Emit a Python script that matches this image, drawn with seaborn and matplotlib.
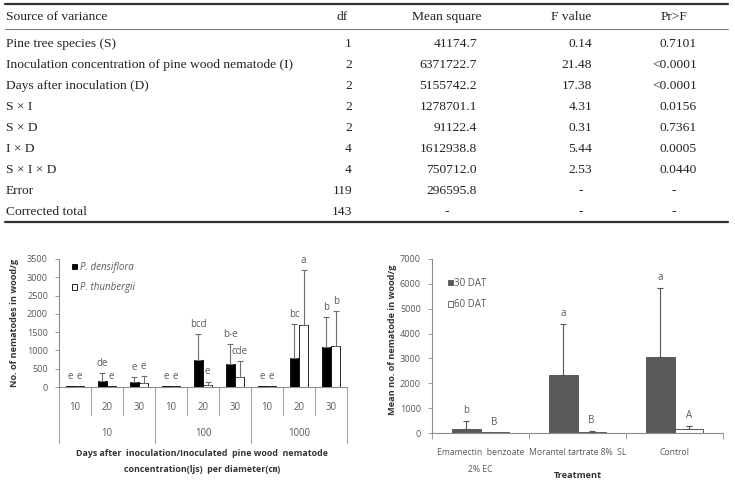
import matplotlib
matplotlib.use("Agg")
import matplotlib.pyplot as plt
import matplotlib.transforms as mtransforms
from matplotlib.lines import Line2D
from matplotlib.patches import Patch
import seaborn as sns
import pandas as pd

# ---------------- data: ANOVA table ----------------
table_header = ["Source of variance", "df", "Mean square", "F value", "Pr>F"]
sources = ["Pine tree species (S)",
           "Inoculation concentration of pine wood nematode (I)",
           "Days after inoculation (D)",
           "S \u00d7 I", "S \u00d7 D", "I \u00d7 D", "S \u00d7 I \u00d7 D",
           "Error", "Corrected total"]
df_vals = ["1", "2", "2", "2", "2", "4", "4", "119", "143"]
mean_squares = ["41174.7", "6371722.7", "5155742.2", "1278701.1", "91122.4",
                "1612938.8", "750712.0", "296595.8", "-"]
f_values = ["0.14", "21.48", "17.38", "4.31", "0.31", "5.44", "2.53", "-", "-"]
pr_f = ["0.7101", "<0.0001", "<0.0001", "0.0156", "0.7361", "0.0005",
        "0.0440", "-", "-"]

# ---------------- data: left chart ----------------
conc_levels = ["10", "10", "10", "100", "100", "100", "1000", "1000", "1000"]
day_levels = ["10", "20", "30", "10", "20", "30", "10", "20", "30"]
species = ["P. densiflora", "P. thunbergii"]
dens_mean = [20, 155, 130, 15, 730, 630, 15, 780, 1090]
dens_top = [20, 380, 270, 15, 1440, 1170, 15, 1720, 1920]
thun_mean = [20, 30, 110, 15, 60, 260, 15, 1690, 1110]
thun_top = [20, 30, 290, 15, 150, 700, 15, 3190, 2080]
dens_letters = ["e", "de", "e", "e", "bcd", "b-e", "e", "bc", "b"]
thun_letters = ["e", "e", "e", "e", "e", "cde", "e", "a", "b"]

# ---------------- data: right chart ----------------
treatments = ["Emamectin  benzoate\n2% EC", "Morantel tartrate 8%  SL", "Control"]
dat_levels = ["30 DAT", "60 DAT"]
dat30_mean = [160, 2320, 3070]
dat30_top = [480, 4390, 5850]
dat60_mean = [25, 30, 160]
dat60_top = [25, 80, 270]
letters30 = ["b", "a", "a"]
letters60 = ["B", "B", "A"]

# ---------------- figure ----------------
sns.set_style("white")
plt.rcParams["font.family"] = ["Open Sans", "Noto Sans CJK KR", "DejaVu Sans"]
W, H = 735, 486
fig = plt.figure(figsize=(W / 100, H / 100), dpi=100)


def fx(x):
    return x / W


def fy(y):
    return 1 - y / H


# ---------------- table ----------------
serif = "Liberation Serif"
tsize = 9.7
tcolor = "#222222"
fig.add_artist(Line2D([fx(5), fx(728)], [fy(4.5), fy(4.5)], lw=1.6, color="#333333"))
fig.add_artist(Line2D([fx(5), fx(728)], [fy(29), fy(29)], lw=0.6, color="#555555"))
fig.add_artist(Line2D([fx(5), fx(728)], [fy(222), fy(222)], lw=1.6, color="#333333"))

hdr_x = [6, 342, 447, 571, 674]
hdr_ha = ["left", "center", "center", "center", "center"]
for t, x, ha in zip(table_header, hdr_x, hdr_ha):
    fig.text(fx(x), fy(17), t, ha=ha, va="center", family=serif, size=tsize, color=tcolor)

right_edges = [352, 477, 592, 697]
dash_centers = [345, 447, 581, 674]
row_y0, row_step = 44, 21
for i, (s, d, m, f, p) in enumerate(zip(sources, df_vals, mean_squares, f_values, pr_f)):
    y = fy(row_y0 + i * row_step)
    fig.text(fx(6), y, s, ha="left", va="center", family=serif, size=tsize, color=tcolor)
    for val, re, dc in zip([d, m, f, p], right_edges, dash_centers):
        if val == "-":
            fig.text(fx(dc), y, val, ha="center", va="center", family=serif, size=tsize, color=tcolor)
        else:
            fig.text(fx(re), y, val, ha="right", va="center", family=serif, size=tsize, color=tcolor)

# ---------------- common styling ----------------
txt_gray = "#595959"
axis_gray = "#8c8c8c"
tick_fs = 6.6
lab_fs = 6.6


def style_axes(ax):
    for sp in ["top", "right"]:
        ax.spines[sp].set_visible(False)
    for sp in ["left", "bottom"]:
        ax.spines[sp].set_color(axis_gray)
        ax.spines[sp].set_linewidth(0.8)
    ax.tick_params(axis="y", length=3, width=0.6, color=axis_gray, labelsize=tick_fs,
                   labelcolor=txt_gray, pad=5, direction="out", left=True)
    ax.grid(False)


# ---------------- left chart ----------------
L0, R0, T0, B0 = 59, 347, 259, 387
ax1 = fig.add_axes([fx(L0), fy(B0), fx(R0 - L0), (B0 - T0) / H])
cats = [f"{c}/{d}" for c, d in zip(conc_levels, day_levels)]
left_df = pd.DataFrame({
    "cat": cats * 2,
    "species": [species[0]] * 9 + [species[1]] * 9,
    "value": dens_mean + thun_mean,
})
sns.barplot(data=left_df, x="cat", y="value", hue="species", order=cats,
            hue_order=species, palette=["black", "white"], saturation=1,
            edgecolor="black", linewidth=0.6, width=0.58, gap=0,
            errorbar=None, legend=False, ax=ax1)
style_axes(ax1)
ax1.set_ylim(0, 3500)
ax1.set_yticks(range(0, 3501, 500))
ax1.set_xlim(-0.5, 8.5)
ax1.set_xticks(range(9))
ax1.set_xticklabels(day_levels)
ax1.tick_params(axis="x", length=0, pad=10.5, labelsize=6.9, labelcolor=txt_gray)
ax1.set_xlabel("")
ax1.set_ylabel("No. of nematodes in wood/g", fontsize=lab_fs, fontweight="bold", color="#333333")
ax1.yaxis.label.set_va("center")
ax1.yaxis.set_label_coords((15 - L0) / (R0 - L0), 0.5)

tops_all = [dens_top, thun_top]
means_all = [dens_mean, thun_mean]
letters_all = [dens_letters, thun_letters]
for cont, means, tops, lets in zip(ax1.containers, means_all, tops_all, letters_all):
    for bar, m, t, lt in zip(cont, means, tops, lets):
        xc = bar.get_x() + bar.get_width() / 2
        if t - m > 1:
            ax1.errorbar([xc], [m], yerr=[[0], [t - m]], fmt="none", ecolor="#6e6e6e",
                         elinewidth=0.8, capsize=2.2, capthick=0.8, zorder=3)
        ax1.annotate(lt, (xc, t), xytext=(0, 3), textcoords="offset points",
                     ha="center", va="bottom", fontsize=7, color=txt_gray)

blend1 = mtransforms.blended_transform_factory(ax1.transData, ax1.transAxes)
hpx = B0 - T0
sep_col = "#a6a6a6"
for b in [0.5, 1.5, 3.5, 4.5, 6.5, 7.5]:
    ax1.plot([b, b], [0, -28 / hpx], transform=blend1, clip_on=False, color=sep_col, lw=0.8)
for b in [-0.5, 2.5, 5.5, 8.5]:
    ax1.plot([b, b], [0, -56 / hpx], transform=blend1, clip_on=False, color=sep_col, lw=0.8)
for gx, gl in zip([1, 4, 7], ["10", "100", "1000"]):
    ax1.text(gx, -46 / hpx, gl, transform=blend1, ha="center", va="center",
             fontsize=6.9, color=txt_gray)
ax1.text(0.497, -74.5 / hpx,
         "Days after  inoculation/Inoculated  pine wood  nematode\nconcentration(ljs)  per diameter(\u339d)",
         transform=ax1.transAxes, ha="center", va="center", fontsize=6.4,
         fontweight="bold", color="#333333", linespacing=2.0)

leg1 = ax1.legend(handles=[Patch(facecolor="black", edgecolor="black", lw=0.6),
                           Patch(facecolor="white", edgecolor="black", lw=0.6)],
                  labels=species, loc="upper left",
                  bbox_to_anchor=((72 - L0) / (R0 - L0), 1 - 3 / hpx),
                  frameon=False, borderpad=0, borderaxespad=0,
                  handlelength=0.55, handleheight=0.55, handletextpad=0.3,
                  labelspacing=0.95, prop={"size": 7, "style": "italic"})
for t in leg1.get_texts():
    t.set_color(txt_gray)

# ---------------- right chart ----------------
L2, R2, T2, B2 = 432, 723, 259, 433
ax2 = fig.add_axes([fx(L2), fy(B2), fx(R2 - L2), (B2 - T2) / H])
right_df = pd.DataFrame({
    "treatment": treatments * 2,
    "dat": [dat_levels[0]] * 3 + [dat_levels[1]] * 3,
    "value": dat30_mean + dat60_mean,
})
sns.barplot(data=right_df, x="treatment", y="value", hue="dat", order=treatments,
            hue_order=dat_levels, palette=["#595959", "white"], saturation=1,
            edgecolor="#595959", linewidth=0.7, width=0.58, gap=0,
            errorbar=None, legend=False, ax=ax2)
style_axes(ax2)
ax2.set_ylim(0, 7000)
ax2.set_yticks(range(0, 7001, 1000))
ax2.set_xlim(-0.5, 2.5)
ax2.set_xticks([-0.5, 0.5, 1.5, 2.5])
ax2.set_xticklabels([])
ax2.set_xticks([0, 1, 2], minor=True)
ax2.set_xticklabels(treatments, minor=True)
ax2.tick_params(axis="x", which="major", length=4, width=0.6, color=axis_gray, bottom=True)
ax2.tick_params(axis="x", which="minor", length=0, pad=11, labelsize=6.2,
                labelcolor=txt_gray, bottom=True)
for lab in ax2.get_xticklabels(minor=True):
    lab.set_linespacing(2.1)
ax2.set_xlabel("")
ax2.set_ylabel("Mean no. of nematode in wood/g", fontsize=lab_fs, fontweight="bold", color="#333333")
ax2.yaxis.label.set_va("center")
ax2.yaxis.set_label_coords((392 - L2) / (R2 - L2), 0.535)
hpx2 = B2 - T2
ax2.text(0.5, (B2 - 475) / hpx2, "Treatment", transform=ax2.transAxes, ha="center",
         va="center", fontsize=lab_fs, fontweight="bold", color="#333333")

for cont, means, tops, lets in zip(ax2.containers, [dat30_mean, dat60_mean],
                                    [dat30_top, dat60_top], [letters30, letters60]):
    for bar, m, t, lt in zip(cont, means, tops, lets):
        xc = bar.get_x() + bar.get_width() / 2
        if t - m > 1:
            ax2.errorbar([xc], [m], yerr=[[0], [t - m]], fmt="none", ecolor="#555555",
                         elinewidth=0.8, capsize=2.2, capthick=0.8, zorder=3)
        ax2.annotate(lt, (xc, t), xytext=(0, 3.5), textcoords="offset points",
                     ha="center", va="bottom", fontsize=7, color=txt_gray)

leg2 = ax2.legend(handles=[Patch(facecolor="#595959", edgecolor="#595959", lw=0.6),
                           Patch(facecolor="white", edgecolor="#595959", lw=0.6)],
                  labels=dat_levels, loc="upper left",
                  bbox_to_anchor=((448 - L2) / (R2 - L2), 1 - 19 / hpx2),
                  frameon=False, borderpad=0, borderaxespad=0,
                  handlelength=0.5, handleheight=0.5, handletextpad=0.15,
                  labelspacing=1.05, prop={"size": 7})
for t in leg2.get_texts():
    t.set_color(txt_gray)

fig.savefig("out.png", dpi=100)
